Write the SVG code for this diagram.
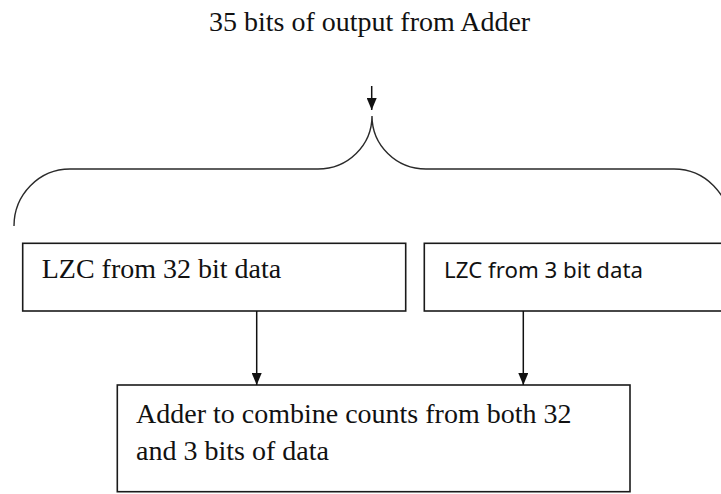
<svg xmlns="http://www.w3.org/2000/svg" width="721" height="494" viewBox="0 0 721 494">
  <style>
    .box { fill: #ffffff; stroke: #1a1a1a; stroke-width: 1.6; }
    .serif { font-family: "Liberation Serif", "Times New Roman", serif; font-size: 28px; fill: #111111; }
    .sans { font-family: "Noto Sans", "Open Sans", "Liberation Sans", sans-serif; font-size: 22px; fill: #111111; }
    .wire { fill: none; stroke: #111111; stroke-width: 1.5; }
    .brace { fill: none; stroke: #2a2a2a; stroke-width: 1.4; }
  </style>
  <defs>
    <!-- solid triangular head, tip at the end of the line -->
    <marker id="arrow" viewBox="0 0 12 10" refX="12" refY="5" markerWidth="12" markerHeight="10" markerUnits="userSpaceOnUse" orient="auto">
      <path d="M0,0 L12,5 L0,10 Z" fill="#111111"/>
    </marker>
  </defs>
  <rect width="721" height="494" fill="#ffffff"/>

  <g id="title">
    <text class="serif" x="209" y="31">35 bits of output from Adder</text>
  </g>

  <g id="lzc32">
    <rect class="box" x="22.7" y="243.3" width="383" height="67.7"/>
    <text class="serif" x="41.7" y="277.7">LZC from 32 bit data</text>
  </g>

  <g id="lzc3">
    <rect class="box" x="424.3" y="243.3" width="298" height="67.7"/>
    <text class="sans" x="444" y="278.3" textLength="199" lengthAdjust="spacingAndGlyphs">LZC from 3 bit data</text>
  </g>

  <g id="adder">
    <rect class="box" x="117.3" y="385" width="512.7" height="106.7"/>
    <text class="serif" x="136" y="423.3">Adder to combine counts from both 32</text>
    <text class="serif" x="136" y="460">and 3 bits of data</text>
  </g>

  <g id="connectors">
    <!-- input arrow into the split brace -->
    <line class="wire" x1="371.7" y1="86" x2="371.7" y2="110" marker-end="url(#arrow)"/>
    <!-- curly brace splitting the 35 bits into two groups -->
    <path class="brace" d="M14,226 A56,57 0 0 1 70,169 H318 A54,53 0 0 0 372,116 A54,53 0 0 0 426,169 H674 A56,57 0 0 1 730,226"/>
    <!-- counts into the combining adder -->
    <line class="wire" x1="256.7" y1="311" x2="256.7" y2="385" marker-end="url(#arrow)"/>
    <line class="wire" x1="523.3" y1="311" x2="523.3" y2="385" marker-end="url(#arrow)"/>
  </g>
</svg>
